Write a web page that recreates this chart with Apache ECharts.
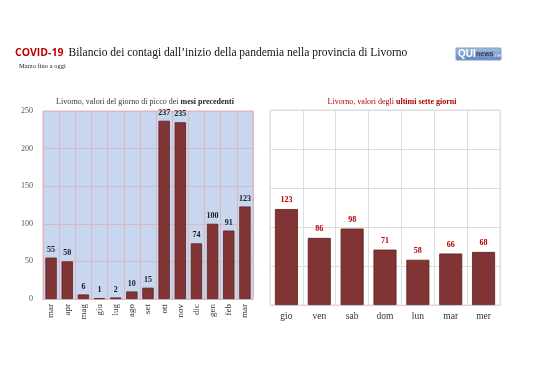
<!DOCTYPE html>
<html><head><meta charset="utf-8">
<script src="https://cdn.jsdelivr.net/npm/echarts@6/dist/echarts.min.js"></script>
<style>html,body{margin:0;padding:0;background:#fff}#c{width:538px;height:380px}</style>
</head><body><div id="c"></div>
<script>
const monthCats = ['mar','apr','mag','giu','lug','ago','set','ott','nov','dic','gen','feb','mar'];
const monthVals = [55,50,6,1,2,10,15,237,235,74,100,91,123];
const dayCats = ['gio','ven','sab','dom','lun','mar','mer'];
const dayVals = [123,86,98,71,58,66,68];
const yTicks = [0,50,100,150,200,250];

const serif = '"Liberation Serif", "DejaVu Serif", serif';
const barColor = '#803434';
const barBorder = '#5e2020';

const chart = echarts.init(document.getElementById('c'), null, {renderer:'canvas'});
chart.setOption({
  animation:false,
  backgroundColor:'#fff',
  title:[
    {text:'{a|COVID-19} {b|Bilancio dei contagi dall\u2019inizio della pandemia nella provincia di Livorno}',
     left:10, top:39,
     textStyle:{fontWeight:'normal', rich:{
       a:{fontFamily:'"Open Sans", "Liberation Sans", sans-serif', fontWeight:'bold', fontSize:10.5, color:'#c00000'},
       b:{fontFamily:serif, fontWeight:'normal', fontSize:11.5, color:'#111'}
     }}},
    {text:'Marzo fino a oggi', left:14, top:58, textStyle:{fontFamily:serif, fontSize:6.5, fontWeight:'normal', color:'#222'}},
    {text:'{a|Livorno, valori del giorno di picco dei }{b|mesi precedenti}', left:140, textAlign:'center', top:93,
     textStyle:{fontWeight:'normal', rich:{a:{fontFamily:serif, fontWeight:'normal', fontSize:8, color:'#333'}, b:{fontFamily:serif, fontSize:8, fontWeight:'bold', color:'#222'}}}},
    {text:'{a|Livorno, valori degli }{b|ultimi sette giorni}', left:387, textAlign:'center', top:93,
     textStyle:{fontWeight:'normal', rich:{a:{fontFamily:serif, fontWeight:'normal', fontSize:8, color:'#b00000'}, b:{fontFamily:serif, fontSize:8, fontWeight:'bold', color:'#b00000'}}}}
  ],
  graphic:[
    {type:'rect', shape:{x:456, y:48, width:45, height:12, r:1},
     style:{fill:new echarts.graphic.LinearGradient(0,0,0,1,[{offset:0,color:'#a9c0e0'},{offset:1,color:'#5f84b8'}]), stroke:'#7f9cc7'}},
    {type:'text', x:458, y:49, style:{text:'QUI', font:'bold 10px "Liberation Sans", sans-serif', fill:'#fff'}},
    {type:'text', x:476, y:51, style:{text:'news', font:'bold 7px "Liberation Sans", sans-serif', fill:'#2c3e66'}},
    {type:'text', x:493, y:52, style:{text:'.net', font:'6px "Liberation Sans", sans-serif', fill:'#dfe8f5'}}
  ],
  grid:[
    {left:43, right:285, top:111, bottom:81, show:true, backgroundColor:'#c8d7ef', borderColor:'#dcb8bc', borderWidth:1},
    {left:270, right:38, top:110, bottom:75, show:true, backgroundColor:'#fff', borderColor:'#dddddd', borderWidth:1}
  ],
  xAxis:[
    {type:'category', gridIndex:0, data:monthCats,
     axisLine:{show:true, lineStyle:{color:'#dcb8bc'}}, axisTick:{show:false},
     splitLine:{show:true, lineStyle:{color:'#dcb8bc', width:1}},
     axisLabel:{rotate:90, fontFamily:serif, fontSize:9, color:'#333', margin:5, interval:0}},
    {type:'category', gridIndex:1, data:dayCats,
     axisLine:{show:true, lineStyle:{color:'#d6d6d6'}}, axisTick:{show:false},
     splitLine:{show:true, lineStyle:{color:'#dddddd', width:1}},
     axisLabel:{fontFamily:serif, fontSize:9.5, color:'#333', margin:6, interval:0}}
  ],
  yAxis:[
    {type:'value', gridIndex:0, min:yTicks[0], max:yTicks[yTicks.length-1], interval:50,
     axisLine:{show:false}, axisTick:{show:false},
     splitLine:{show:true, lineStyle:{color:'#dcb8bc', width:1}},
     axisLabel:{fontFamily:serif, fontSize:8, color:'#555', margin:10}},
    {type:'value', gridIndex:1, min:yTicks[0], max:yTicks[yTicks.length-1], interval:50,
     axisLine:{show:false}, axisTick:{show:false},
     splitLine:{show:true, lineStyle:{color:'#dddddd', width:1}},
     axisLabel:{show:false}}
  ],
  series:[
    {type:'bar', xAxisIndex:0, yAxisIndex:0, data:monthVals, barWidth:'70%',
     itemStyle:{color:barColor, borderColor:barBorder, borderWidth:0.8},
     label:{show:true, position:'top', distance:4, fontFamily:serif, fontWeight:'bold', fontSize:8, color:'#1a1a1a'}},
    {type:'bar', xAxisIndex:1, yAxisIndex:1, data:dayVals, barWidth:'70%',
     itemStyle:{color:barColor, borderColor:barBorder, borderWidth:0.8},
     label:{show:true, position:'top', distance:5, fontFamily:serif, fontWeight:'bold', fontSize:8, color:'#b00000'}}
  ]
});
</script></body></html>
